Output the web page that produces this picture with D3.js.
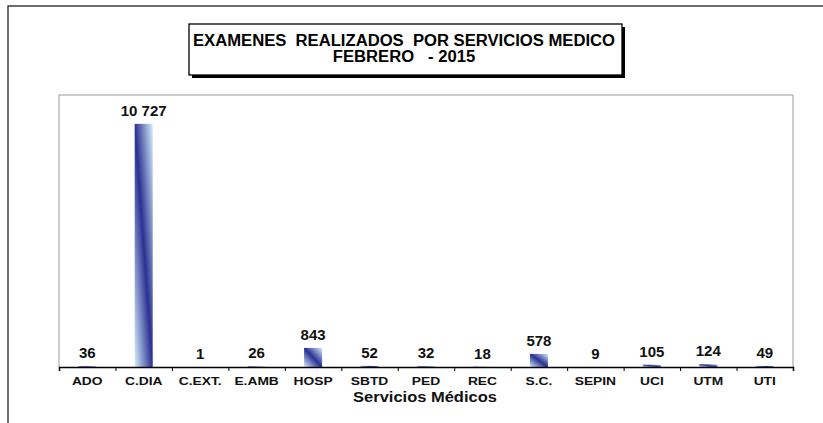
<!DOCTYPE html>
<html>
<head>
<meta charset="utf-8">
<script src="https://d3js.org/d3.v7.min.js"></script>
<style>
  body { margin: 0; background: #fff; }
  text { font-family: "Liberation Sans", Arial, sans-serif; font-weight: bold; }
</style>
</head>
<body>
<div id="chart"></div>
<script>
// data
var servicios = ["ADO", "C.DIA", "C.EXT.", "E.AMB", "HOSP", "SBTD", "PED", "REC", "S.C.", "SEPIN", "UCI", "UTM", "UTI"];
var examenes = [36, 10727, 1, 26, 843, 52, 32, 18, 578, 9, 105, 124, 49];
var titulo = ["EXAMENES  REALIZADOS  POR SERVICIOS MEDICO", "FEBRERO   - 2015"];
var tituloEje = "Servicios Médicos";

var W = 823, H = 423;
var plot = {left: 59, top: 95, right: 793, bottom: 367};

var svg = d3.select("#chart").append("svg")
    .attr("width", W)
    .attr("height", H);

// gradient for bars (diagonal, light - dark - light)
var grad = svg.append("defs").append("linearGradient")
    .attr("id", "barGrad")
    .attr("x1", 1).attr("y1", 0)
    .attr("x2", 0).attr("y2", 1);
grad.append("stop").attr("offset", "0%").attr("stop-color", "#d4eefc");
grad.append("stop").attr("offset", "50%").attr("stop-color", "#2a3192");
grad.append("stop").attr("offset", "100%").attr("stop-color", "#d4eefc");

// outer frame
svg.append("rect")
    .attr("x", 8).attr("y", 6)
    .attr("width", 900).attr("height", 500)
    .attr("fill", "none")
    .attr("stroke", "#222")
    .attr("stroke-width", 1.3);

// plot area border (left, top, right)
svg.append("path")
    .attr("d", "M" + plot.left + "," + plot.bottom + "V" + plot.top + "H" + plot.right + "V" + plot.bottom)
    .attr("fill", "none")
    .attr("stroke", "#9a9a9a")
    .attr("stroke-width", 1);

// scales
var x = d3.scaleBand()
    .domain(servicios)
    .range([plot.left, plot.right])
    .paddingInner(0.68)
    .paddingOuter(0.34);

var xCat = d3.scaleBand()
    .domain(servicios)
    .range([plot.left, plot.right])
    .padding(0);

var xTicks = d3.scaleLinear()
    .domain([0, servicios.length])
    .range([plot.left, plot.right]);

var y = d3.scaleLinear()
    .domain([0, 12000])
    .range([plot.bottom, plot.top]);

// bars
svg.selectAll("rect.bar")
    .data(examenes)
    .enter()
    .append("rect")
    .attr("class", "bar")
    .attr("x", function(d, i) { return x(servicios[i]); })
    .attr("y", function(d) { return y(d); })
    .attr("width", x.bandwidth())
    .attr("height", function(d) { return y(0) - y(d); })
    .attr("fill", "url(#barGrad)");

// value labels
var fmt = d3.formatLocale({decimal: ",", thousands: " ", grouping: [3], currency: ["", ""]}).format(",d");
svg.selectAll("text.val")
    .data(examenes)
    .enter()
    .append("text")
    .attr("class", "val")
    .attr("x", function(d, i) { return xCat(servicios[i]) + xCat.bandwidth() / 2; })
    .attr("y", function(d) { return y(d) - 8; })
    .attr("text-anchor", "middle")
    .attr("font-size", "15px")
    .attr("fill", "#111")
    .text(function(d) { return fmt(d); });

// axis: boundary ticks
var tickAxis = svg.append("g")
    .attr("transform", "translate(0," + plot.bottom + ")")
    .call(d3.axisBottom(xTicks).tickValues(d3.range(servicios.length + 1)).tickSize(4).tickFormat(""));
tickAxis.select(".domain").attr("stroke", "#000").attr("stroke-width", 1.5);
tickAxis.selectAll(".tick line").attr("stroke", "#000");

// axis: category labels (slightly stretched, like the original)
var labelAxis = svg.append("g")
    .attr("transform", "translate(0," + plot.bottom + ")")
    .call(d3.axisBottom(xCat).tickSize(0).tickPadding(10));
labelAxis.select(".domain").remove();
labelAxis.selectAll("text")
    .attr("font-size", "11.5px")
    .attr("font-family", "Liberation Sans, Arial, sans-serif")
    .attr("font-weight", "bold")
    .attr("fill", "#111")
    .attr("transform", "scale(1.2,1)");

// axis title
svg.append("text")
    .attr("transform", "translate(425,402) scale(1.1,1)")
    .attr("text-anchor", "middle")
    .attr("font-size", "15px")
    .attr("fill", "#111")
    .text(tituloEje);

// title box with shadow
svg.append("rect")
    .attr("x", 192).attr("y", 27)
    .attr("width", 433).attr("height", 51)
    .attr("fill", "#000");
svg.append("rect")
    .attr("x", 189).attr("y", 24)
    .attr("width", 433).attr("height", 51)
    .attr("fill", "#fff")
    .attr("stroke", "#000")
    .attr("stroke-width", 1.3);

svg.selectAll("text.title")
    .data(titulo)
    .enter()
    .append("text")
    .attr("class", "title")
    .attr("transform", function(d, i) { return "translate(404," + (46 + i * 16) + ") scale(1.04,1)"; })
    .attr("text-anchor", "middle")
    .attr("font-size", "16px")
    .attr("fill", "#000")
    .style("white-space", "pre")
    .text(function(d) { return d; });
</script>
</body>
</html>
